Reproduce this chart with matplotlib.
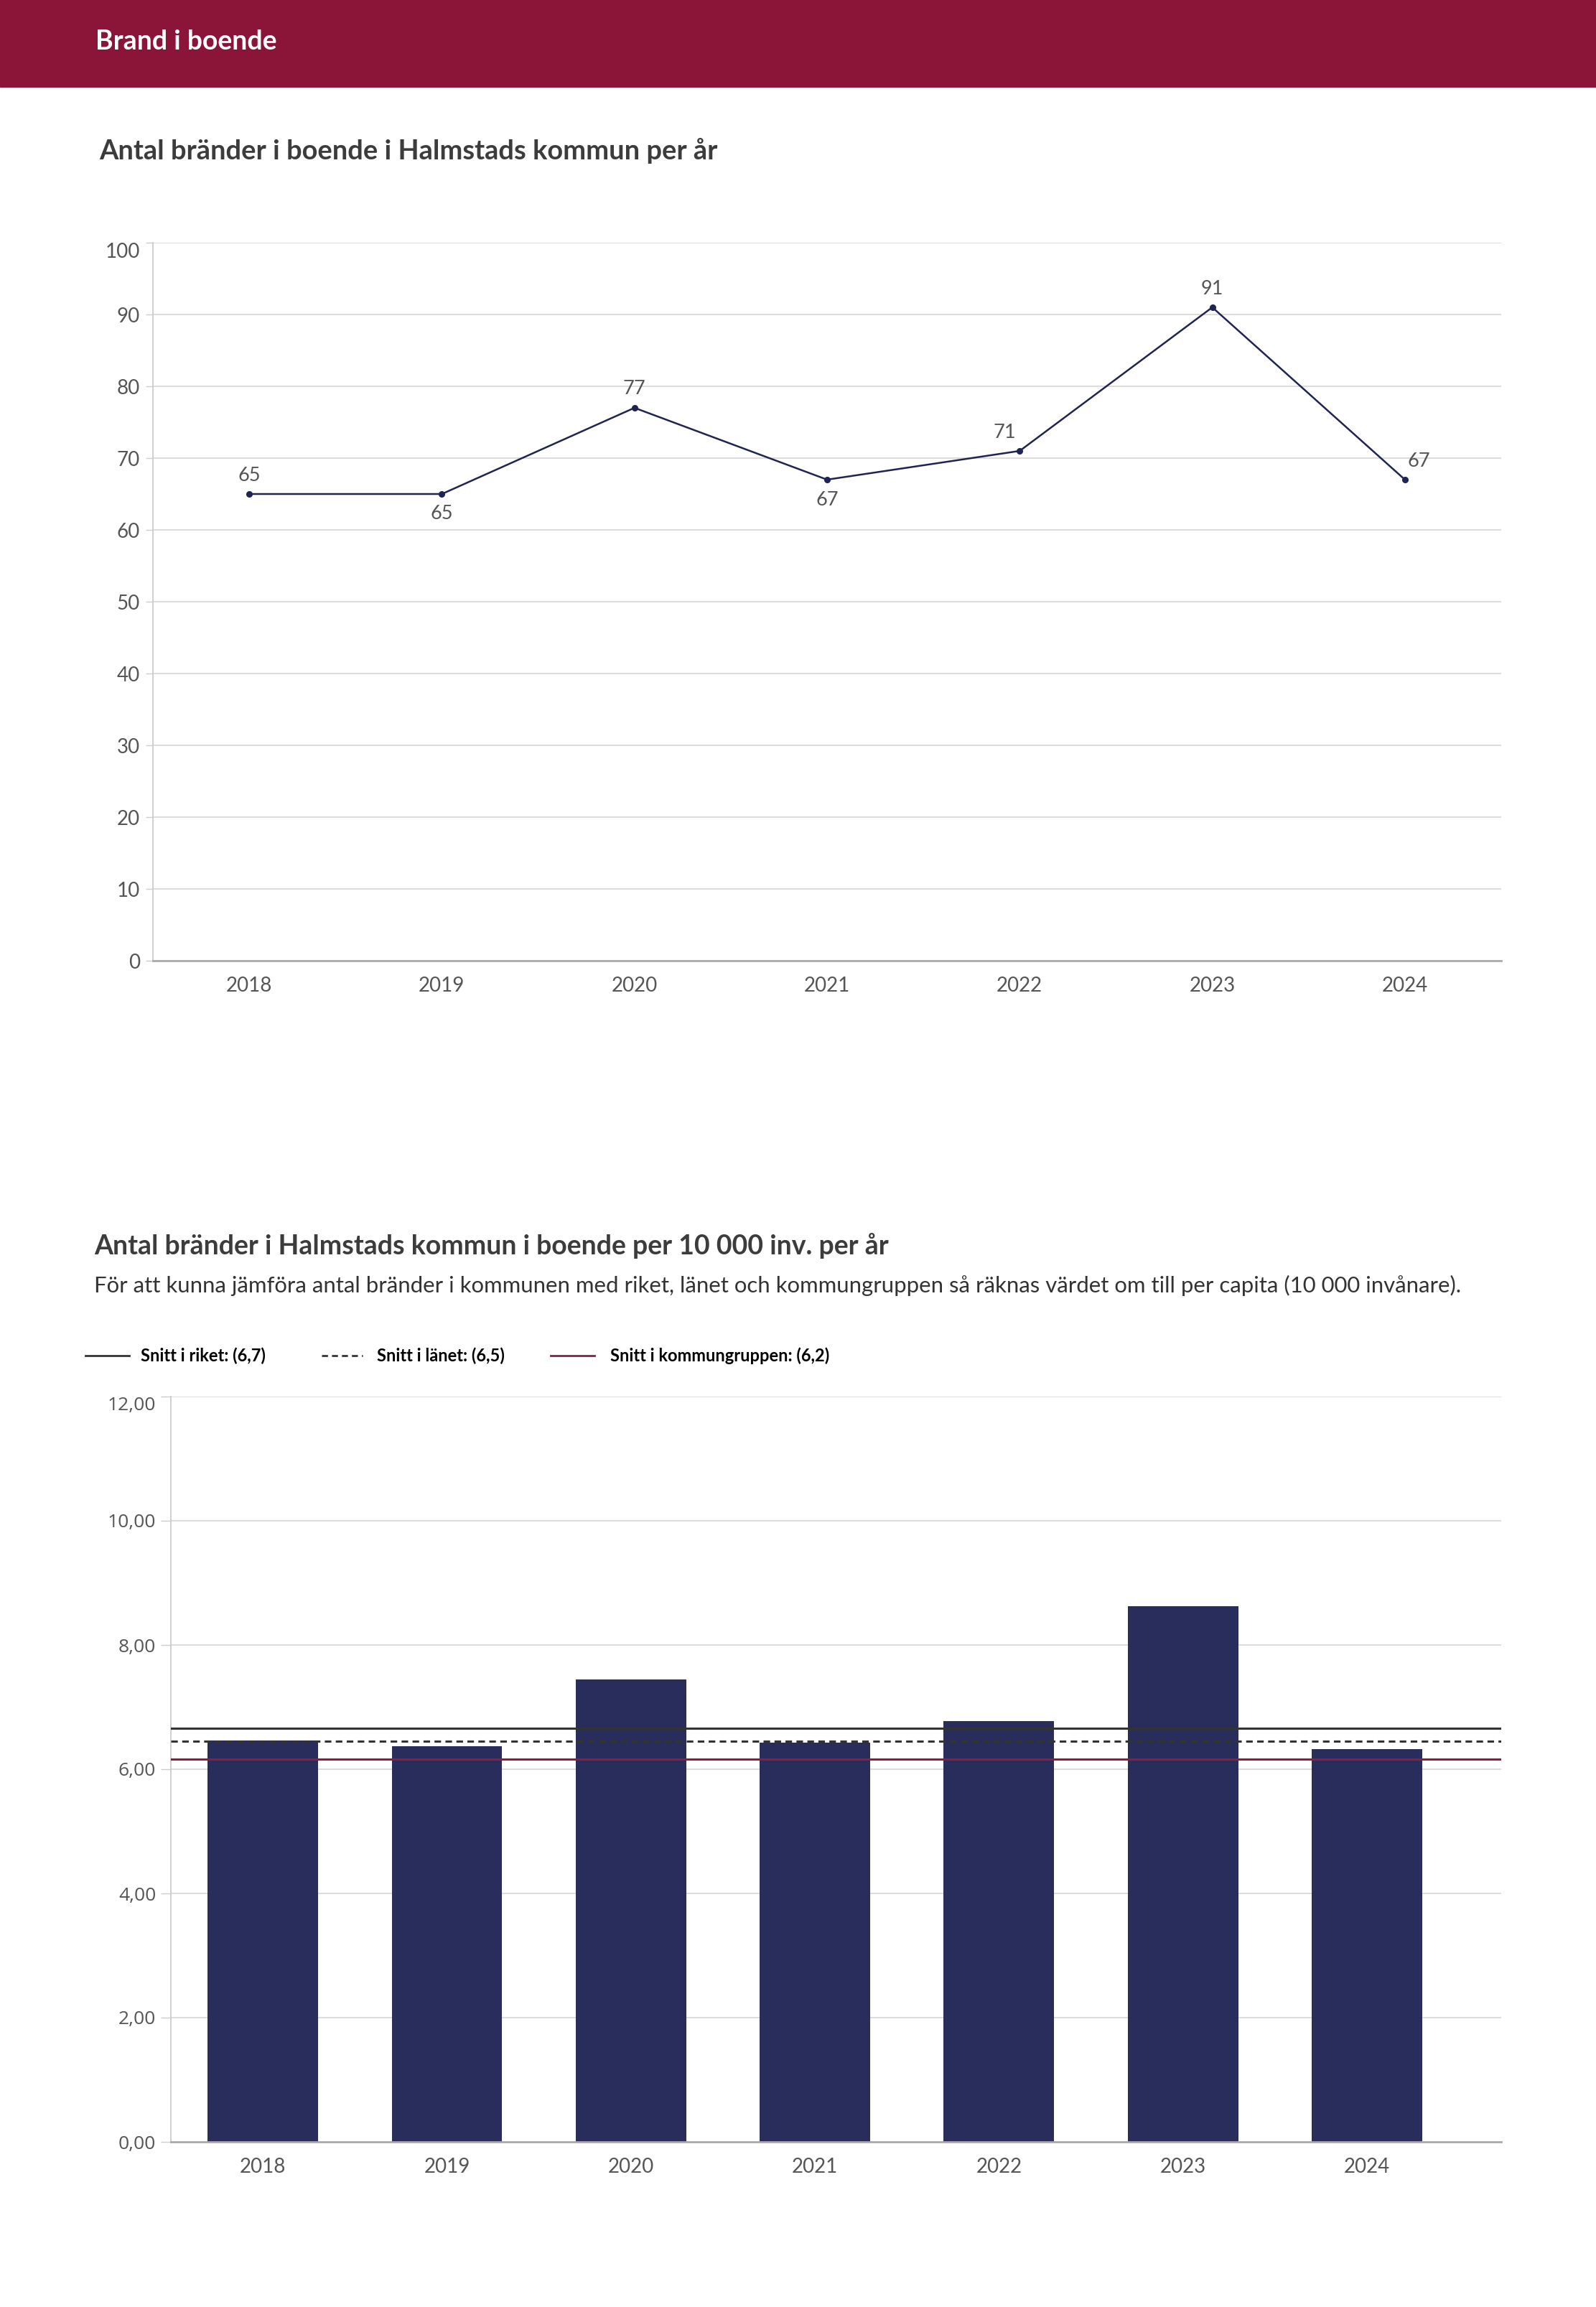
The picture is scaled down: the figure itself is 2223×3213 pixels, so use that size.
import matplotlib
matplotlib.use("Agg")
import matplotlib.pyplot as plt
from matplotlib.lines import Line2D
from matplotlib.ticker import FuncFormatter

# data
years = ["2018", "2019", "2020", "2021", "2022", "2023", "2024"]
fires = [65, 65, 77, 67, 71, 91, 67]
fires_per_10k = [6.46, 6.37, 7.45, 6.43, 6.77, 8.62, 6.32]

avg_names = ["Snitt i riket: (6,7)", "Snitt i länet: (6,5)", "Snitt i kommungruppen: (6,2)"]
avg_values = [6.66, 6.45, 6.16]

header_text = "Brand i boende"
title1 = "Antal bränder i boende i Halmstads kommun per år"
title2 = "Antal bränder i Halmstads kommun i boende per 10 000 inv. per år"
subtitle2 = ("För att kunna jämföra antal bränder i kommunen med riket, länet och "
             "kommungruppen så räknas värdet om till per capita (10 000 invånare).")

W, H = 2223, 3213
MAROON = "#8b1538"
NAVY_LINE = "#1f2452"
NAVY_BAR = "#282d5c"
TXT = "#3c3c3c"
TICK = "#555555"
GRID = "#d9d9d9"

plt.rcParams['font.family'] = ['Lato', 'DejaVu Sans']

fig = plt.figure(figsize=(W / 100, H / 100), dpi=100)
fig.patch.set_facecolor("white")

def fx(x):
    return x / W

def fy(y):
    return 1 - y / H

# header band
fig.add_artist(plt.Rectangle((0, fy(121)), 1, 121 / H, transform=fig.transFigure,
                             color=MAROON, zorder=0))
fig.text(fx(133), fy(58), header_text, color="white", fontsize=27, fontweight="bold",
         va="center", ha="left")

# ---- top chart ----
fig.text(fx(138), fy(210), title1, color=TXT, fontsize=27.4, fontweight="bold",
         va="center", ha="left")

ax1 = fig.add_axes([fx(213), fy(1338), (2091 - 213) / W, 1000 / H])
x = list(range(len(years)))
ax1.plot(x, fires, color=NAVY_LINE, lw=1.8, marker="o", ms=5.5, zorder=3)
ax1.set_xlim(-0.5, len(years) - 0.5)
ax1.set_ylim(0, 100)
ax1.set_yticks(range(0, 101, 10))
ax1.set_xticks(x)
ax1.set_xticklabels(years)
ax1.grid(axis="y", color=GRID, lw=1.3)
ax1.set_axisbelow(True)
for s in ["top", "right"]:
    ax1.spines[s].set_visible(False)
ax1.spines["left"].set_color("#cccccc")
ax1.spines["left"].set_linewidth(1.3)
ax1.spines["bottom"].set_color("#aaaaaa")
ax1.spines["bottom"].set_linewidth(2)
ax1.tick_params(axis="y", length=7, width=1, color="#cccccc", labelsize=20,
                labelcolor=TICK, pad=6)
ax1.tick_params(axis="x", length=0, labelsize=20, labelcolor=TICK, pad=16)
ax1.get_yticklabels()[-1].set_va("top")

# label offsets in pixels (dx, dy)
offs = [(0, 26), (0, -27), (0, 27), (0, -28), (-21, 26), (0, 26), (19, 26)]
for i, v in enumerate(fires):
    ax1.annotate(str(v), (i, v), xytext=(offs[i][0] * 0.72, offs[i][1] * 0.72),
                 textcoords="offset points", ha="center", va="center",
                 fontsize=19.5, color=TICK)

# ---- bottom chart ----
fig.text(fx(131), fy(1735), title2, color=TXT, fontsize=27, fontweight="bold",
         va="center", ha="left")
fig.text(fx(131), fy(1790), subtitle2, color="#333333", fontsize=22.4,
         va="center", ha="left")

styles = [dict(color="#333333", ls="-"), dict(color="#333333", ls=(0, (3, 2))),
          dict(color="#8b1e3f", ls="-")]
leg_pos = [(119, 180, 196), (448, 505, 525), (767, 828, 850)]
for name, st, (x0, x1, xt) in zip(avg_names, styles, leg_pos):
    fig.add_artist(Line2D([fx(x0), fx(x1)], [fy(1888), fy(1888)], transform=fig.transFigure,
                          lw=2, **st))
    fig.text(fx(xt), fy(1888), name, fontsize=17, fontweight="bold", color="black",
             va="center", ha="left")

ax2 = fig.add_axes([fx(238), fy(2983), (2091 - 238) / W, 1038 / H])
ax2.bar(x, fires_per_10k, width=0.6, color=NAVY_BAR, zorder=2)
for v, st in zip(avg_values, styles):
    ax2.axhline(v, lw=2.2, zorder=3, **st)
ax2.set_xlim(-0.5, 6.73)
ax2.set_ylim(0, 12)
ax2.set_yticks(range(0, 13, 2))
ax2.yaxis.set_major_formatter(FuncFormatter(lambda v, p: ("%.2f" % v).replace(".", ",")))
ax2.set_xticks(x)
ax2.set_xticklabels(years)
ax2.grid(axis="y", color=GRID, lw=1.3)
ax2.set_axisbelow(True)
for s in ["top", "right"]:
    ax2.spines[s].set_visible(False)
ax2.spines["left"].set_color("#cccccc")
ax2.spines["left"].set_linewidth(1.3)
ax2.spines["bottom"].set_color("#aaaaaa")
ax2.spines["bottom"].set_linewidth(2)
ax2.tick_params(axis="y", length=10, width=1, color="#cccccc", labelsize=19,
                labelcolor=TICK, pad=5)
ax2.tick_params(axis="x", length=0, labelsize=20, labelcolor=TICK, pad=16)
for t in ax2.get_yticklabels():
    t.set_fontfamily(["Open Sans", "DejaVu Sans"])
ax2.get_yticklabels()[-1].set_va("top")

fig.savefig("out.png", dpi=100, facecolor="white")
